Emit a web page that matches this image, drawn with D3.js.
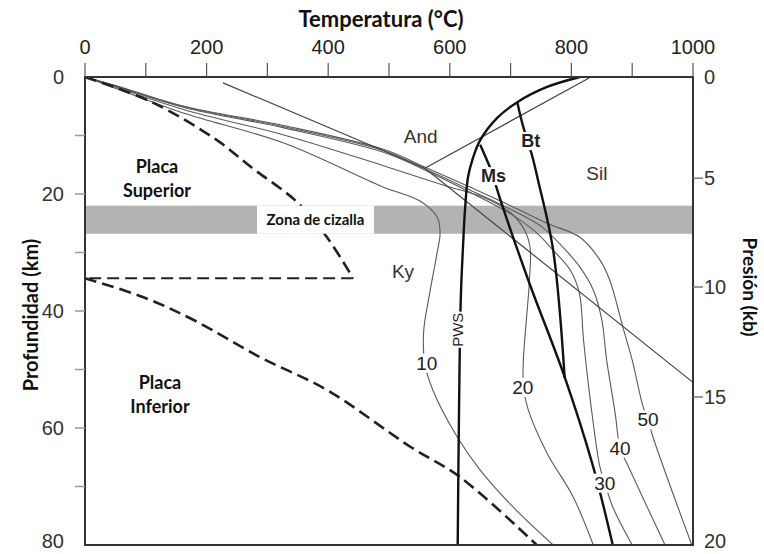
<!DOCTYPE html>
<html>
<head>
<meta charset="utf-8">
<script src="https://cdn.jsdelivr.net/npm/d3@7"></script>
<style>
  body { margin: 0; background: #fff; }
  svg { display: block; }
</style>
</head>
<body>
<svg id="chart" width="764" height="554"></svg>
<script>
// ---- Axis ticks and labels ----
const tempTicks = [0, 100, 200, 300, 400, 500, 600, 700, 800, 900, 1000];
const tempLabels = [0, 200, 400, 600, 800, 1000];
const depthTicks = [10, 20, 30, 40, 50, 60, 70];
const depthLabels = [0, 20, 40, 60, 80];
const pressureLabels = [0, 5, 10, 15, 20];
const pressureDepthKm = [0, 17.3, 35.9, 54.7, 80];   // depth (km) at which each pressure value sits
const pressureTicks = [5, 10, 15];

// ---- Shear zone (depth range, km) ----
const shearZone = [22, 26.8];

// ---- Plate geotherms (T °C, depth km), dashed ----
const upperPlateGeotherm = [[0, 0], [110, 4.3], [217, 10.8], [273, 15.4], [349, 21.4], [398, 27.4], [441, 34.4]];
const thrustBase = [[441, 34.4], [0, 34.4]];
const lowerPlateGeotherm = [[0, 34.4], [95, 37.6], [178, 41.5], [288, 47.9], [398, 53.5], [535, 63.2], [617, 68.4], [743, 80]];

// ---- Geotherms after thrusting, labelled by time ----
const geotherm10 = [[0, 0], [52, 2.0], [163, 6.2], [327, 11.3], [488, 18.7], [551, 21.2], [579, 23.9], [584, 26.7], [579, 30.1], [567, 36.9], [557, 43.5], [559, 49], [572, 53.5], [612, 61.5], [650, 67.2], [704, 73.5], [770, 80]];
const geotherm20 = [[0, 0], [52, 1.8], [163, 5.6], [327, 9.9], [492, 15.2], [590, 18.5], [656, 20.6], [700, 23.2], [722, 26], [732, 29.1], [731, 34.7], [721, 48.4], [721, 53], [729, 56.9], [760, 64.3], [803, 71.8], [836, 80]];
const geotherm30 = [[0, 0], [52, 1.6], [163, 5.2], [327, 8.7], [492, 12.9], [557, 15.8], [633, 19.7], [700, 23.4], [740, 26.4], [770, 29.6], [798, 33], [813, 36.9], [820, 45], [832, 56], [847, 66.7], [855, 69.4], [868, 73.5], [900, 80]];
const geotherm40 = [[0, 0], [52, 1.6], [163, 5.1], [327, 8.5], [492, 12.6], [557, 15.6], [633, 19.3], [700, 22.6], [750, 25.5], [786, 29.1], [814, 32.5], [836, 36.4], [850, 41.5], [858, 48.4], [872, 57.5], [880, 63.4], [891, 66], [954, 80]];
const geotherm50 = [[0, 0], [52, 1.5], [163, 5.0], [327, 8.3], [492, 12.4], [557, 15.3], [633, 18.8], [700, 22], [760, 25], [814, 27.4], [847, 31.3], [863, 34.7], [885, 42.9], [900, 48.4], [918, 56.4], [926, 58.6], [934, 61.5], [998, 80]];
const geothermLabels = [
  { text: "10", t: 562, d: 48.9 },
  { text: "20", t: 720, d: 53.0 },
  { text: "30", t: 855, d: 69.4 },
  { text: "40", t: 880, d: 63.4 },
  { text: "50", t: 926, d: 58.6 }
];

// ---- Al2SiO5 phase boundaries (thin straight lines) ----
const kyAnd = [[227, 1.0], [559, 15.6]];
const andSil = [[832, 0], [559, 15.6]];
const kySil = [[559, 15.6], [1000, 52.2]];

// ---- Melting reactions (thick lines) ----
const pws = [[814, 0], [760, 1.7], [711, 4.3], [678, 7.0], [650, 10.8], [637, 14.2], [630, 17.1], [625, 22.7], [622, 28.4], [618, 38.1], [615, 58.6], [613, 80]];
const muscovite = [[650, 11.6], [671, 16.8], [678, 19.3], [729, 34.7], [789, 51.3], [836, 66.7], [868, 80]];
const biotite = [[711, 4.3], [720, 8.2], [735, 13.3], [745, 17.6], [770, 29.6], [789, 51.5]];

// ---- Region text ----
const fieldLabels = [
  { text: "And", t: 552, d: 10.2 },
  { text: "Sil", t: 842, d: 16.4 },
  { text: "Ky", t: 523, d: 33.2 }
];

const svg = d3.select("#chart");
const margin = { left: 85, right: 693, top: 77, bottom: 545 };

const x = d3.scaleLinear().domain([0, 1000]).range([margin.left, margin.right]);
const y = d3.scaleLinear().domain([0, 80]).range([margin.top, margin.bottom]);
const yP = d3.scaleLinear().domain(pressureLabels).range(pressureDepthKm.map(y));

const tickFont = "'Liberation Sans', Arial, sans-serif";
const boldFont = "Lato, 'Open Sans', sans-serif";

// shear zone band
svg.append("rect")
  .attr("x", x(0)).attr("width", x(1000) - x(0))
  .attr("y", y(shearZone[0])).attr("height", y(shearZone[1]) - y(shearZone[0]))
  .attr("fill", "#b3b3b3");

const line = d3.line().x(d => x(d[0])).y(d => y(d[1])).curve(d3.curveCatmullRom.alpha(0.5));
const straight = d3.line().x(d => x(d[0])).y(d => y(d[1]));

const plot = svg.append("g");

// thin geotherms
[geotherm10, geotherm20, geotherm30, geotherm40, geotherm50].forEach(g => {
  plot.append("path").attr("d", line(g))
    .attr("fill", "none").attr("stroke", "#5a5a5a").attr("stroke-width", 1.1);
});

// phase boundaries
[kyAnd, andSil, kySil].forEach(g => {
  plot.append("path").attr("d", straight(g))
    .attr("fill", "none").attr("stroke", "#444").attr("stroke-width", 1.2);
});

// plate geotherms, dashed
[upperPlateGeotherm, lowerPlateGeotherm].forEach(g => {
  plot.append("path").attr("d", line(g))
    .attr("fill", "none").attr("stroke", "#222").attr("stroke-width", 2.6)
    .attr("stroke-dasharray", "12,6");
});
plot.append("path").attr("d", straight(thrustBase))
  .attr("fill", "none").attr("stroke", "#222").attr("stroke-width", 2)
  .attr("stroke-dasharray", "12,6");

// melting reactions
[pws, muscovite, biotite].forEach(g => {
  plot.append("path").attr("d", line(g))
    .attr("fill", "none").attr("stroke", "#111").attr("stroke-width", 2.4);
});

// labels sitting on lines, with white knock-out
function knockLabel(txt, cx, cy, size, weight, family, rotate) {
  const g = svg.append("g").attr("transform", `translate(${cx},${cy})` + (rotate ? ` rotate(${rotate})` : ""));
  const t = g.append("text").text(txt)
    .attr("text-anchor", "middle").attr("dy", "0.35em")
    .attr("font-family", family).attr("font-size", size).attr("font-weight", weight)
    .attr("fill", "#222");
  const bb = t.node().getBBox();
  g.insert("rect", "text")
    .attr("x", bb.x - 1).attr("y", bb.y + 1).attr("width", bb.width + 2).attr("height", bb.height - 2)
    .attr("fill", "#fff");
}

geothermLabels.forEach(l => knockLabel(l.text, x(l.t), y(l.d), 19, 400, tickFont, 0));
knockLabel("PWS", x(613), y(43.2), 15, 400, tickFont, -90);
knockLabel("Bt", x(733), y(10.9), 18, 700, tickFont, 0);
knockLabel("Ms", x(672), y(16.9), 18, 700, tickFont, 0);

fieldLabels.forEach(l => {
  svg.append("text").text(l.text)
    .attr("x", x(l.t)).attr("y", y(l.d)).attr("dy", "0.35em")
    .attr("text-anchor", "middle")
    .attr("font-family", tickFont).attr("font-size", 19).attr("fill", "#333");
});

// shear zone caption box
const zx0 = 257, zx1 = 374;
svg.append("rect")
  .attr("x", zx0).attr("width", zx1 - zx0)
  .attr("y", y(shearZone[0])).attr("height", y(shearZone[1]) - y(shearZone[0]))
  .attr("fill", "#fff");
svg.append("text").text("Zona de cizalla")
  .attr("x", (zx0 + zx1) / 2).attr("y", (y(shearZone[0]) + y(shearZone[1])) / 2).attr("dy", "0.35em")
  .attr("text-anchor", "middle")
  .attr("font-family", boldFont).attr("font-weight", 700).attr("font-size", 15).attr("fill", "#111");

// plate names
[["Placa", 157, 167], ["Superior", 157, 191], ["Placa", 160, 383], ["Inferior", 160, 407]].forEach(([s, cx, cy]) => {
  svg.append("text").text(s)
    .attr("x", cx).attr("y", cy).attr("dy", "0.35em").attr("text-anchor", "middle")
    .attr("font-family", boldFont).attr("font-weight", 700).attr("font-size", 18).attr("fill", "#111");
});

// frame
svg.append("rect")
  .attr("x", x(0)).attr("y", y(0))
  .attr("width", x(1000) - x(0)).attr("height", y(80) - y(0))
  .attr("fill", "none").attr("stroke", "#333").attr("stroke-width", 2);

// top temperature axis
const topAxis = svg.append("g");
topAxis.selectAll("line").data(tempTicks).join("line")
  .attr("x1", d => x(d)).attr("x2", d => x(d))
  .attr("y1", y(0)).attr("y2", y(0) - 14)
  .attr("stroke", "#555").attr("stroke-width", 1.2);
topAxis.selectAll("text").data(tempLabels).join("text")
  .attr("x", d => x(d)).attr("y", y(0) - 30).attr("dy", "0.35em")
  .attr("text-anchor", "middle")
  .attr("font-family", tickFont).attr("font-size", 20).attr("fill", "#222")
  .text(d => d);

// left depth axis
const leftAxis = svg.append("g");
leftAxis.selectAll("line").data(depthTicks).join("line")
  .attr("x1", x(0)).attr("x2", x(0) - 10)
  .attr("y1", d => y(d)).attr("y2", d => y(d))
  .attr("stroke", "#999").attr("stroke-width", 1.5);
leftAxis.selectAll("text").data(depthLabels).join("text")
  .attr("x", x(0) - 21).attr("y", d => Math.min(y(d), 541)).attr("dy", "0.35em")
  .attr("text-anchor", "end")
  .attr("font-family", tickFont).attr("font-size", 20).attr("fill", "#333")
  .text(d => d);

// right pressure axis
const rightAxis = svg.append("g");
rightAxis.selectAll("line").data(pressureTicks).join("line")
  .attr("x1", x(1000)).attr("x2", x(1000) + 10)
  .attr("y1", d => yP(d)).attr("y2", d => yP(d))
  .attr("stroke", "#777").attr("stroke-width", 1.5);
rightAxis.selectAll("text").data(pressureLabels).join("text")
  .attr("x", x(1000) + 11).attr("y", d => Math.min(yP(d), 541)).attr("dy", "0.35em")
  .attr("text-anchor", "start")
  .attr("font-family", tickFont).attr("font-size", 20).attr("fill", "#333")
  .text(d => d);

// axis titles
svg.append("text").text("Temperatura (°C)")
  .attr("x", 381).attr("y", 19).attr("dy", "0.35em").attr("text-anchor", "middle")
  .attr("font-family", boldFont).attr("font-weight", 700).attr("font-size", 22).attr("fill", "#111");
svg.append("text").text("Profundidad (km)")
  .attr("transform", "translate(31,315) rotate(-90)").attr("dy", "0.35em").attr("text-anchor", "middle")
  .attr("font-family", boldFont).attr("font-weight", 700).attr("font-size", 20).attr("fill", "#111");
svg.append("text").text("Presión (kb)")
  .attr("transform", "translate(750,287) rotate(90)").attr("dy", "0.35em").attr("text-anchor", "middle")
  .attr("font-family", boldFont).attr("font-weight", 700).attr("font-size", 19).attr("fill", "#111");
</script>
</body>
</html>
